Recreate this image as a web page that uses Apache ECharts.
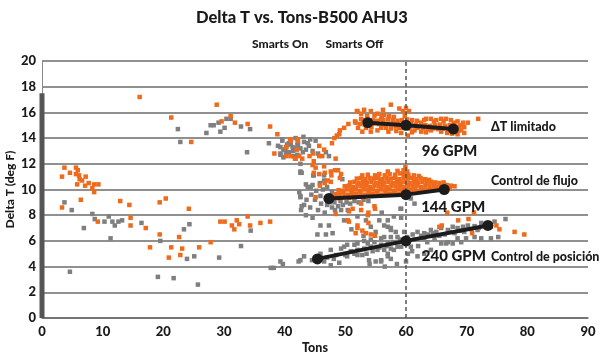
<!DOCTYPE html>
<html>
<head>
<meta charset="utf-8">
<script src="https://cdn.jsdelivr.net/npm/echarts@6/dist/echarts.min.js"></script>
<style>
html,body{margin:0;padding:0;background:#fff;}
#chart{width:600px;height:355px;}
</style>
</head>
<body>
<div id="chart"></div>
<script>
// ---- Data ----
const xTicks = [0, 10, 20, 30, 40, 50, 60, 70, 80, 90];
const yTicks = [0, 2, 4, 6, 8, 10, 12, 14, 16, 18, 20];
const dividerTons = 60;
const leftBar = [[0, 0], [0, 17.5]];

// Smarts On (gray)
const smartsOn = [
[3.7,9.0],[4.9,8.4],[4.6,3.6],[6.9,7.0],[8.3,8.1],[8.7,7.7],[10.3,7.5],[11.0,7.9],[11.3,6.2],[11.6,7.5],[12.0,7.2],[12.6,7.5],[13.2,7.6],[16.4,7.4],
[19.1,3.2],[19.5,6.0],[21.7,3.1],[22.4,14.7],[22.8,13.7],[23.4,6.9],[23.9,4.6],[24.3,7.3],[25.1,4.8],[25.7,2.6],
[27.1,14.4],[27.8,15.0],[28.3,15.0],[29.1,15.2],[29.4,14.5],[30.1,14.8],[30.4,15.5],[31.1,15.5],[29.2,4.7],[32.8,14.9],[32.8,5.6],[33.8,12.9],[34.3,14.7],[34.4,6.8],
[37.4,13.6],[37.7,3.9],[38.2,3.9],[38.9,13.4],[39.7,4.2],[39.6,13.8],[39.3,12.8],[39.8,12.5],[40.1,13.1],[40.4,13.5],[40.7,12.9],[41.4,13.0],[41.9,13.2],[42.2,13.5],[42.3,4.4],
[42.6,12.0],[42.6,11.4],[42.4,9.8],[42.6,9.5],[42.7,8.4],
[39.6,13.9],[39.3,13.3],[39.8,13.1],[39.3,12.7],[40.7,13.6],[41.3,13.3],[42.1,13.5],[42.6,13.2],[43.2,13.7],[44.2,13.9],[45.1,13.8],[44.0,13.4],[43.5,13.1],[42.1,12.7],[41.5,12.6],
[46.8,12.9],[47.3,12.6],[42.6,11.3],[44.7,11.1],[46.5,11.1],[49.5,10.8],[43.5,10.4],[44.3,10.2],
[40.2,12.8],[41.0,13.5],[43.0,12.9],[43.8,13.6],[44.6,13.0],[45.5,12.8],[41.8,14.0],[43.1,14.1],
[42.8,11.3],[44.8,11.1],[43.8,10.2],[44.6,10.35],[45.8,10.5],[46.5,10.7],[42.6,9.4],[43.6,9.2],[44.4,9.6],[45.2,9.9],[45.0,9.2],[45.9,9.5],[46.3,10.0],[46.0,8.9],
[46.8,9.3],[47.0,8.8],[47.4,9.0],[47.8,8.6],[48.2,9.0],[48.8,8.7],[49.2,9.1],[49.6,8.8],[50.2,9.0],[50.8,8.9],[51.5,9.1],[52.2,9.0],[53.0,9.2],[53.8,9.1],
[44.2,8.6],[43.2,8.8],[45.5,8.4],[46.6,8.2],[48.3,8.4],[43.5,8.0],[44.6,7.8],[42.8,8.7],[47.0,10.2],[47.8,9.8],[48.4,9.4],[49.0,9.6],
[45.9,7.2],[47.3,7.2],[45.4,6.5],[46.8,6.5],[47.9,6.6],[49.8,7.6],[49.3,8.4],[53.4,7.6],[55.6,7.6],[56.4,7.2],[57.5,7.0],[52.0,7.9],[50.4,8.4],[57.0,7.6],
[54.2,7.1],[58.3,6.7],[59.1,8.5],[56.0,8.2],[55.0,6.7],[53.0,6.4],[51.0,6.9],[61.4,8.9],[60.8,9.3],[59.2,8.5],
[39.3,4.4],[42.6,4.5],[43.2,4.8],[45.9,5.0],[47.6,5.3],[49.3,5.4],[50.3,5.7],[52.0,5.8],[53.7,5.8],[54.8,5.9],[55.9,5.7],[57.0,5.8],[58.1,5.9],[59.2,6.1],
[52.8,4.9],[53.9,4.5],[55.0,4.4],[55.9,4.4],[57.0,4.8],[49.0,4.3],[47.6,4.1],[60.0,4.4],[60.3,5.0],
[50.9,5.2],[52.0,5.3],[53.1,5.4],[54.2,5.55],[55.3,5.3],[56.4,5.3],[57.5,5.4],[58.6,5.55],[52.0,4.9],[50.3,4.8],[48.1,4.6],[46.5,4.4],[54.2,6.1],[55.9,6.2],[57.5,6.3],[53.1,6.0],[51.5,5.7],[49.8,5.55],
[56.4,6.3],[57.5,6.85],[58.6,6.3],[59.7,6.7],[61.1,6.5],[61.9,6.7],[63.0,6.6],[64.1,6.85],[65.0,6.7],[65.8,7.0],[66.9,6.85],[67.7,7.1],[68.5,7.0],[69.4,7.1],[70.2,7.2],[71.3,7.15],
[72.4,7.4],[73.5,7.15],[71.8,6.85],[69.6,6.7],[68.0,6.6],[66.4,6.5],[64.7,6.2],[63.0,6.2],[61.4,6.1],[60.8,5.55],[59.2,5.55],[58.0,5.3],[57.0,5.0],[57.5,4.6],[61.9,4.8],[63.0,5.0],
[64.1,5.3],[65.8,5.8],[66.9,5.9],[68.5,6.2],[69.9,6.2],[71.3,6.3],[72.4,6.2],[74.0,6.2],[75.2,6.3],[59.2,7.8],[58.0,7.9],[57.0,7.1],[66.6,5.8],[67.7,5.8],[69.1,5.9],
[76.4,7.7],[74.6,7.5],[74.0,7.1],[55.9,4.5],
[62.5,6.4],[63.6,6.5],[64.4,6.6],[65.5,6.4],[67.2,6.7],[68.9,6.8],[70.8,6.9],[72.0,7.0],[60.2,6.3],[59.0,6.0],[57.9,5.9],[56.8,5.6],[55.6,5.5],[54.5,5.2],[53.5,5.0],
[51.5,5.0],[50.0,4.9],[48.5,4.9],[47.0,4.7],[46.0,4.6],[44.5,4.5],[62.0,5.6],[63.5,5.9],[61.0,5.2],[56.5,4.0],[58.5,4.2],[54.0,4.2]
];

// Smarts Off (orange)
const smartsOff = [
[16.1,17.2],[28.8,16.6],[21.3,15.6],[29.6,15.3],[31.1,15.7],[31.8,15.2],[33.9,15.1],[37.6,14.9],[24.6,13.7],[38.8,14.3],[38.3,12.8],[40.3,13.3],[41.0,13.8],[42.2,13.8],[41.0,12.6],[41.8,12.4],
[3.3,11.0],[3.7,11.7],[4.6,11.3],[5.6,11.7],[5.9,11.5],[5.6,11.2],[6.1,11.1],[6.2,10.8],[6.6,10.7],[5.8,10.4],[7.2,11.0],[7.1,10.3],[7.7,10.5],[8.6,10.4],[9.3,10.4],[8.3,10.1],[8.6,9.8],
[3.3,8.6],[6.4,9.2],[9.2,7.5],[12.9,9.1],[14.4,8.8],[14.6,7.8],[14.6,7.2],[17.1,7.0],[17.8,5.5],[19.4,9.0],[20.4,9.3],[19.4,6.5],[20.9,4.7],[21.3,5.5],[22.6,6.3],[22.8,4.9],[23.1,5.4],
[24.2,8.5],[25.9,5.5],[27.8,5.9],[29.4,7.5],[30.1,7.5],[31.3,7.2],[31.7,6.9],[32.1,7.6],[32.5,7.3],[33.9,7.9],[34.3,7.2],[36.0,7.4],[37.6,7.5],
[40.9,13.9],[42.1,13.9],[40.2,13.3],[40.3,12.6],[42.0,13.1],[42.4,12.6],[42.9,12.4],[41.7,12.4],[44.1,12.6],[44.7,12.8],[45.7,13.4],[45.7,12.6],[46.2,12.6],[46.5,13.1],[48.4,12.4],
[44.6,11.9],[45.1,11.7],[44.8,11.3],[45.7,11.2],[46.5,11.8],[46.6,11.3],[47.6,11.4],[48.3,11.5],[48.8,11.5],[47.7,11.1],[47.1,10.7],[47.6,10.6],[49.3,11.2],[49.1,10.9],[46.6,10.5],[45.8,10.3],
[47.8,13.6],[48.6,14.2],[49.1,14.6],[50.5,15.1],[51.6,15.3],[52.0,16.1],[52.6,15.9],[44.8,12.2],
[45.1,9.4],[48.4,8.1],[50.6,8.3],[52.6,8.4],[53.7,8.0],[54.8,8.7],[50.4,7.6],[52.0,7.0],[51.7,6.6],[53.4,6.6],
[51.2,8.5],[52.6,8.9],[53.8,8.2],[54.9,8.5],[50.6,7.5],[52.0,7.2],[52.8,6.8],[54.9,6.4],[53.8,7.4],[54.2,6.5],
[66.8,8.2],[71.2,8.2],[68.6,7.6],[70.3,7.7],[65.9,7.2],[65.5,7.1],[70.9,6.6],[75.4,6.9],[77.9,6.7],[79.5,6.5],[74.9,7.2],
[57.5,16.6],[58.9,16.3],[59.5,16.1],[60.5,16.1],[51.9,16.1],[53.1,16.2],[54.2,16.1],[55.3,15.9],[56.4,15.8],[57.2,15.7],[55.9,15.5],[52.6,15.5],[51.7,15.2],[52.1,14.8],[52.8,14.5],
[54.2,14.5],[55.3,14.6],[56.7,14.8],[58.3,14.9],[59.2,14.4],[60.3,14.2],[61.4,14.6],[62.5,15.2],[63.3,15.5],[64.1,15.5],[65.0,15.4],[65.8,15.5],[66.6,15.5],[67.4,15.4],[68.5,15.3],
[69.4,15.2],[70.2,15.2],[71.9,15.5],[69.1,14.6],[69.6,14.4],[68.5,14.3],[65.8,14.5],[64.1,14.6],[62.5,14.5],[49.8,14.8],[49.0,14.3],[48.2,14.0],
[53.6,15.7],[54.8,15.75],[56.0,15.7],[58.0,15.65],[59.8,15.7],
[52.9,15.4],[53.7,15.45],[54.5,15.4],[55.2,15.35],[56.2,15.4],[57.0,15.45],[57.8,15.4],[58.6,15.35],[59.3,15.4],[60.2,15.45],[61.0,15.4],[61.8,15.35],[63.0,15.4],[64.6,15.3],[66.2,15.3],[67.9,15.2],[69.0,15.0],
[52.4,15.1],[53.2,15.05],[54.0,15.1],[54.7,15.15],[55.5,15.1],[56.3,15.05],[57.1,15.1],[57.9,15.15],[58.7,15.1],[59.5,15.05],[60.8,15.1],[61.6,15.05],[62.4,14.95],[63.2,15.0],[64.0,14.95],
[64.8,15.0],[65.6,15.05],[66.4,14.95],[67.2,15.0],[68.0,14.95],[68.8,14.9],[69.6,14.85],
[53.4,14.8],[54.3,14.85],[55.9,14.8],[57.5,14.75],[59.0,14.8],[60.6,14.75],[61.9,14.8],[62.8,14.75],[63.6,14.7],[64.5,14.75],[65.3,14.7],[66.1,14.75],[67.0,14.7],[67.8,14.6],[68.6,14.6],
[57.1,14.5],[58.4,14.55],[61.0,14.45],[63.3,14.45],[66.8,14.4],[67.6,14.35],[60.0,16.35],[56.2,16.2],
[47.6,9.3],[48.4,9.35],[49.1,9.3],[49.9,9.4],[50.6,9.35],[51.4,9.4],[52.2,9.45],[53.0,9.4],
[48.3,9.65],[49.0,9.6],[49.7,9.7],[50.4,9.6],[51.1,9.7],[51.8,9.65],[52.5,9.7],[53.2,9.6],[53.9,9.7],[54.6,9.65],[55.3,9.7],[56.0,9.6],[56.7,9.7],[57.4,9.65],[58.1,9.7],[58.8,9.65],[59.5,9.7],[60.3,9.75],
[48.9,9.95],[49.6,9.9],[50.3,10.0],[51.0,9.95],[51.7,10.0],[52.4,9.9],[53.1,10.0],[53.8,9.95],[54.5,10.0],[55.2,9.9],[55.9,10.0],[56.6,9.95],[57.3,10.0],[58.0,9.9],[58.7,10.0],[59.4,9.95],
[60.1,10.0],[60.8,9.95],[61.5,10.0],[62.2,9.9],[62.9,10.0],[63.6,9.95],[64.3,10.0],[65.0,10.05],[65.7,10.0],[66.4,10.1],[67.2,10.05],
[49.9,10.25],[50.6,10.3],[51.3,10.2],[52.0,10.3],[52.7,10.25],[53.4,10.3],[54.1,10.2],[54.8,10.3],[55.5,10.25],[56.2,10.3],[56.9,10.2],[57.6,10.3],[58.3,10.25],[59.0,10.3],[59.7,10.2],
[60.4,10.3],[61.1,10.25],[61.8,10.3],[62.5,10.2],[63.2,10.3],[63.9,10.25],[64.6,10.3],[65.3,10.2],[66.0,10.3],[66.7,10.35],[67.4,10.3],[68.0,10.25],
[50.8,10.55],[51.5,10.6],[52.2,10.5],[52.9,10.6],[53.6,10.55],[54.3,10.6],[55.0,10.5],[55.7,10.6],[56.4,10.55],[57.1,10.6],[57.8,10.5],[58.5,10.6],[59.2,10.55],[59.9,10.6],[60.6,10.5],
[61.3,10.6],[62.0,10.55],[62.7,10.6],[63.4,10.5],[64.1,10.6],[64.8,10.55],[65.5,10.5],[66.2,10.55],
[51.9,10.85],[52.6,10.9],[53.3,10.8],[54.0,10.9],[54.7,10.85],[55.4,10.9],[56.1,10.8],[56.8,10.9],[57.5,10.85],[58.2,10.9],[58.9,10.8],[59.6,10.9],[60.3,10.85],[61.0,10.9],[61.7,10.8],
[62.4,10.9],[63.1,10.8],[63.8,10.75],
[52.8,11.1],[53.7,11.15],[54.9,11.1],[55.6,11.2],[56.5,11.1],[57.3,11.2],[58.2,11.15],[59.0,11.25],[59.7,11.2],[60.4,11.15],[61.3,11.1],[62.1,11.05],
[57.0,11.4],[58.6,11.45],[59.6,11.5],[60.2,11.4],[59.9,11.75]
];

// Operating lines (black)
const dtLimitado = [[53.7,15.2],[60.0,15.0],[67.8,14.7]];
const controlFlujo = [[47.3,9.3],[60.0,9.6],[66.3,10.0]];
const controlPosicion = [[45.4,4.6],[60.0,6.0],[73.5,7.2]];

// Annotation texts and anchors (data coords)
const annotTexts = ['ΔT limitado', '96 GPM', 'Control de flujo', '144 GPM', '240 GPM', 'Control de posición'];
const annotAnchors = [[74.0,14.85],[62.6,13.0],[74.0,10.65],[62.5,8.65],[62.6,4.8],[74.0,4.75]];
const annotBig = [false, true, false, true, true, false];

// ---- Chart ----
const FONT = "Lato, 'DejaVu Sans Condensed', sans-serif";
const W = 900;
const TXT = '#1a1a1a';
const chart = echarts.init(document.getElementById('chart'), null, {renderer: 'canvas'});

const lineStyleBlack = {color: '#1c1c1c', width: 4};
function opLine(name, data) {
  return {
    name: name, type: 'line', data: data, symbol: 'circle', symbolSize: 11,
    itemStyle: {color: '#1c1c1c', opacity: 1}, lineStyle: lineStyleBlack, z: 5, silent: true
  };
}

chart.setOption({
  animation: false,
  backgroundColor: '#fff',
  title: {
    text: 'Delta T vs. Tons-B500 AHU3',
    left: 191, top: 4,
    textStyle: {fontFamily: FONT, fontWeight: W, fontSize: 16.5, color: TXT}
  },
  legend: {
    data: ['Smarts On', 'Smarts Off'],
    left: 242, top: 33,
    icon: 'rect', itemWidth: 0, itemHeight: 0, itemGap: 12,
    textStyle: {fontFamily: FONT, fontWeight: W, fontSize: 12, color: TXT},
    selectedMode: false
  },
  grid: {left: 42, right: 12, top: 61, bottom: 37, containLabel: false, outerBoundsMode: 'none'},
  xAxis: {
    type: 'value', min: xTicks[0], max: xTicks[xTicks.length - 1], interval: 10,
    name: 'Tons', nameLocation: 'middle', nameGap: 23, nameMoveOverlap: false,
    nameTextStyle: {fontFamily: FONT, fontWeight: W, fontSize: 12.5, color: TXT},
    axisLine: {show: true, lineStyle: {color: '#6b6b6b', width: 1.5}},
    axisTick: {show: false},
    splitLine: {show: false},
    axisLabel: {fontFamily: FONT, fontWeight: W, fontSize: 13, color: TXT, margin: 7}
  },
  yAxis: {
    type: 'value', min: yTicks[0], max: yTicks[yTicks.length - 1], interval: 2,
    name: 'Delta T (deg F)', nameLocation: 'middle', nameGap: 26, nameRotate: 90, nameMoveOverlap: false,
    nameTextStyle: {fontFamily: FONT, fontWeight: W, fontSize: 12, color: TXT},
    axisLine: {show: true, lineStyle: {color: '#8a8a8a', width: 1}},
    axisTick: {show: false},
    splitLine: {show: true, lineStyle: {color: '#6b6b6b', width: 1.5}},
    axisLabel: {fontFamily: FONT, fontWeight: W, fontSize: 13, color: TXT, margin: 6}
  },
  series: [
    {
      name: 'leftBar', type: 'line', data: leftBar, symbol: 'none',
      lineStyle: {color: '#555', width: 5}, silent: true, z: 3, clip: false
    },
    {
      name: 'Smarts On', type: 'scatter', data: smartsOn, symbol: 'rect', symbolSize: 4.5,
      itemStyle: {color: '#7f7f7f', opacity: 1}, z: 2,
      markLine: {
        silent: true, symbol: 'none', label: {show: false},
        lineStyle: {color: '#555', type: [4, 3], width: 1.5},
        data: [{xAxis: dividerTons}]
      }
    },
    {
      name: 'Smarts Off', type: 'scatter', data: smartsOff, symbol: 'rect', symbolSize: 4.5,
      itemStyle: {color: '#f06a1c', opacity: 1}, z: 3
    },
    opLine('dt', dtLimitado),
    opLine('flujo', controlFlujo),
    opLine('posicion', controlPosicion),
    {
      name: 'annotations', type: 'scatter', symbolSize: 0, silent: true, z: 10,
      itemStyle: {opacity: 1},
      data: annotAnchors.map((p, i) => ({
        value: p,
        label: {
          show: true, position: 'right', distance: 0,
          formatter: annotTexts[i],
          fontFamily: FONT, fontWeight: W, color: TXT,
          fontSize: annotBig[i] ? 15 : 12.5
        }
      }))
    }
  ]
});
</script>
</body>
</html>
